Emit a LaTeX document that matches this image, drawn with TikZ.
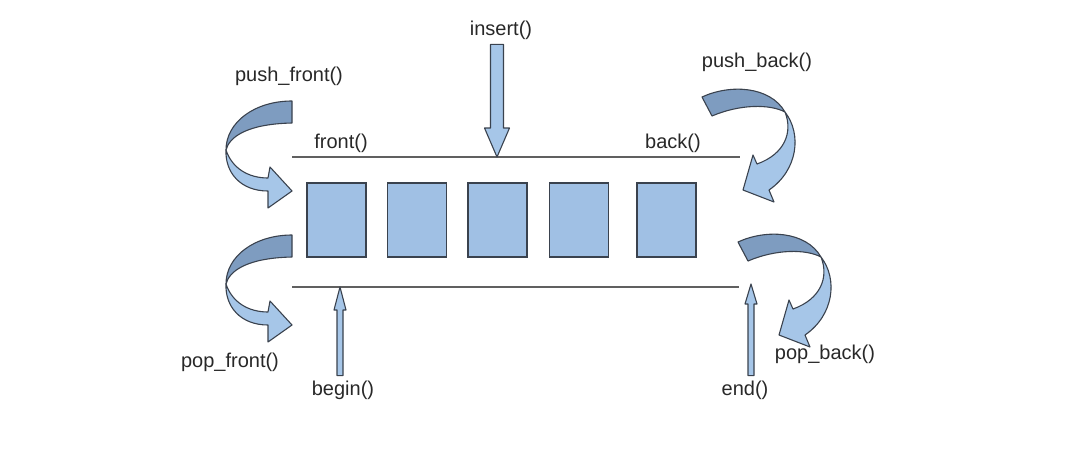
\documentclass[tikz,border=0pt]{standalone}
\usepackage{fontspec}
\setmainfont{Liberation Sans}
\usetikzlibrary{calc,positioning}
\definecolor{cellblue}{RGB}{160,192,228}
\definecolor{ribbondark}{RGB}{126,156,192}
\definecolor{ribbonlight}{RGB}{166,198,232}
\definecolor{edgegray}{RGB}{58,66,78}
\definecolor{railgray}{RGB}{96,96,96}
\definecolor{labelgray}{RGB}{40,40,40}
\tikzset{
  cell/.style={draw=edgegray, fill=cellblue, line width=1.3pt, minimum width=59pt, minimum height=74pt, inner sep=0pt},
  rail/.style={draw=railgray, line width=1.4pt},
  blockarrow/.style={draw=edgegray, fill=ribbonlight, line width=1.1pt, line join=round},
  backside/.style={draw=edgegray, fill=ribbondark, line width=1.1pt, line join=round},
  frontside/.style={draw=edgegray, fill=ribbonlight, line width=1.1pt, line join=round},
  fname/.style={text=labelgray, font=\fontsize{20}{24}\selectfont, inner sep=1pt, outer sep=4pt},
}
\newcommand{\BlockArrow}[5]{%
  \filldraw[blockarrow] (#1) -- ($(#1)+(-#4,#5)$) -- ($(#1)+(-#3,#5)$) -- ($(#2)+(-#3,0)$)
    -- ($(#2)+(#3,0)$) -- ($(#1)+(#3,#5)$) -- ($(#1)+(#4,#5)$) -- cycle;
}
\newcommand{\TwistLeft}[1]{%
  \begin{scope}[shift={(0,#1)}]
    \filldraw[backside] (292,101) .. controls (255,101) and (226,122) .. (226,150)
      .. controls (229,138) and (245,124) .. (292,123) -- cycle;
    \filldraw[frontside] (226,150) .. controls (225,172) and (240,191) .. (268,191)
      -- (268,208) -- (292,191) -- (270,167) -- (268,178)
      .. controls (248,178) and (232,168) .. (226,150) -- cycle;
  \end{scope}
}
\newcommand{\TwistRight}[2]{%
  \begin{scope}[shift={(#1,#2)}]
    \filldraw[backside] (702,97) .. controls (730,84) and (770,86) .. (785,112)
      .. controls (770,104) and (740,104) .. (712,116) -- cycle;
    \filldraw[frontside] (785,112) .. controls (802,134) and (798,170) .. (769,190)
      -- (774,202) -- (743,190) -- (753,155) -- (757,164)
      .. controls (785,154) and (793,132) .. (785,112) -- cycle;
  \end{scope}
}

\begin{document}
\begin{tikzpicture}[x=1pt,y=-1pt]
  \useasboundingbox (0,0) rectangle (1080,448);
  \coordinate (topL) at (292,157);
  \coordinate (topR) at (740,157);
  \coordinate (botL) at (292,287);
  \coordinate (botR) at (739,287);
  \draw[rail] (topL) -- (topR);
  \draw[rail] (botL) -- (botR);
  \foreach \i/\x in {1/336.5,2/417,3/497.5,4/579,5/666.5} {
    \node[cell] (c\i) at (\x,220) {};
  }
  \node[fname] (ins) at (501,30) {insert()};
  \node[fname] (pushF) at (289,76) {push\_front()};
  \node[fname] (pushB) at (757,62) {push\_back()};
  \node[fname] (frontL) at (341,143) {front()};
  \node[fname] (backL) at (673,143) {back()};
  \node[fname] (popF) at (230,362) {pop\_front()};
  \node[fname] (popB) at (825,354) {pop\_back()};
  \node[fname] (beginL) at (343,390) {begin()};
  \node[fname] (endL) at (745,390) {end()};
  \coordinate (insTip) at (497,157);
  \coordinate (insTail) at (insTip |- ins.south);
  \BlockArrow{insTip}{insTail}{6.5}{12.5}{-29}
  \coordinate (beginTip) at (340,287);
  \coordinate (beginTail) at (beginTip |- beginL.north);
  \BlockArrow{beginTip}{beginTail}{3}{6}{23}
  \coordinate (endTip) at (751,284);
  \coordinate (endTail) at (endTip |- endL.north);
  \BlockArrow{endTip}{endTail}{3}{6}{20}
  \TwistLeft{0}
  \TwistLeft{134}
  \TwistRight{0}{0}
  \TwistRight{36}{145}
\end{tikzpicture}
\end{document}
